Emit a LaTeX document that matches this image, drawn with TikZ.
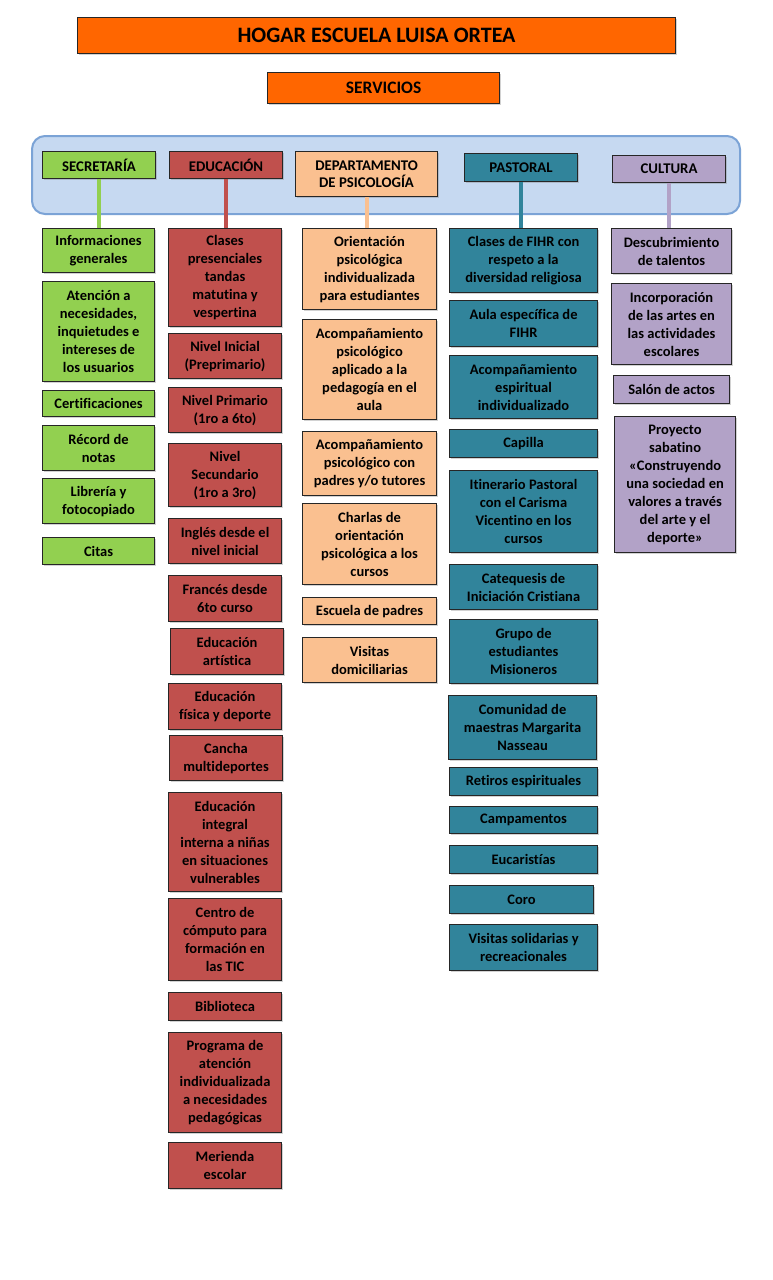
\documentclass[tikz,border=0pt]{standalone}
\usepackage{fontspec}
\setmainfont{Carlito}[Ligatures={CommonOff,ContextualOff}]
\usetikzlibrary{shadows}
\definecolor{cOrange}{HTML}{FF6600}
\definecolor{cGreen}{HTML}{92D050}
\definecolor{cRed}{HTML}{C0504D}
\definecolor{cPeach}{HTML}{FAC090}
\definecolor{cTeal}{HTML}{31849B}
\definecolor{cPurple}{HTML}{B2A2C7}
\definecolor{cPanel}{HTML}{C6D9F1}
\definecolor{cPanelLine}{HTML}{7BA3D6}
\tikzset{
  base/.style={draw=black!85, line width=1.1pt, inner sep=1pt, align=center,
    font=\fontsize{14.5}{18}\selectfont\bfseries,
    drop shadow={shadow xshift=1.3pt, shadow yshift=-1.3pt, opacity=0.35}},
  hdr/.style={base, font=\fontsize{14.8}{17}\selectfont\bfseries},
  ttl/.style={base, fill=cOrange},
  secbox/.style={base, fill=cGreen},
  edubox/.style={base, fill=cRed},
  psybox/.style={base, fill=cPeach},
  pasbox/.style={base, fill=cTeal},
  culbox/.style={base, fill=cPurple},
  panelbox/.style={draw=cPanelLine, line width=2pt, fill=cPanel, rounded corners=13pt, inner sep=0pt},
  link/.style={line width=4pt},
}
\newcommand\mybox[7]{%
  \pgfmathsetmacro\mybw{#4-#2}\pgfmathsetmacro\mybh{#5-#3}%
  \node[#6, minimum width=\mybw pt, minimum height=\mybh pt, anchor=north west] (#1) at (#2,#3) {#7};}
\begin{document}
\begin{tikzpicture}[x=1pt,y=-1pt]
\fill[white] (0,0) rectangle (773,1280);
\useasboundingbox (0,0) rectangle (773,1280);
% title
\mybox{title}{77}{17}{675}{53}{ttl, font=\fontsize{22}{24}\selectfont\bfseries}{HOGAR ESCUELA LUISA ORTEA}
\mybox{serv}{267}{72}{499}{103}{ttl, font=\fontsize{17.5}{19}\selectfont\bfseries}{SERVICIOS}
% panel
\mybox{panel}{31}{135}{739}{213}{panelbox}{}
% headers
\mybox{hsec}{42}{151}{155}{178}{hdr, fill=cGreen}{SECRETARÍA}
\mybox{hedu}{169}{151}{282}{178}{hdr, fill=cRed}{EDUCACIÓN}
\mybox{hpsy}{295}{151}{437}{196}{hdr, fill=cPeach}{DEPARTAMENTO\\DE PSICOLOGÍA}
\mybox{hpas}{464}{153}{577}{181}{hdr, fill=cTeal}{PASTORAL}
\mybox{hcul}{612}{155}{725}{182}{hdr, fill=cPurple}{CULTURA}
% Secretaria
\mybox{s1}{42}{228}{154}{272}{secbox}{Informaciones\\generales}
\mybox{s2}{42}{281}{154}{381}{secbox}{Atención a\\necesidades,\\inquietudes e\\intereses de\\los usuarios}
\mybox{s3}{42}{390}{154}{416}{secbox}{Certificaciones}
\mybox{s4}{42}{425}{154}{470}{secbox}{Récord de\\notas}
\mybox{s5}{42}{478}{154}{523}{secbox}{Librería y\\fotocopiado}
\mybox{s6}{42}{537}{154}{564}{secbox}{Citas}
% Educacion
\mybox{e1}{168}{228}{281}{326}{edubox}{Clases\\presenciales\\tandas\\matutina y\\vespertina}
\mybox{e2}{168}{333}{281}{378}{edubox}{Nivel Inicial\\(Preprimario)}
\mybox{e3}{168}{387}{281}{432}{edubox}{Nivel Primario\\(1ro a 6to)}
\mybox{e4}{168}{443}{281}{506}{edubox}{Nivel\\Secundario\\(1ro a 3ro)}
\mybox{e5}{168}{518}{281}{563}{edubox}{Inglés desde el\\nivel inicial}
\mybox{e6}{168}{575}{281}{621}{edubox}{Francés desde\\6to curso}
\mybox{e7}{170}{628}{283}{674}{edubox}{Educación\\artística}
\mybox{e8}{168}{683}{281}{729}{edubox}{Educación\\física y deporte}
\mybox{e9}{169}{735}{282}{780}{edubox}{Cancha\\multideportes}
\mybox{e10}{168}{792}{281}{891}{edubox}{Educación\\integral\\interna a niñas\\en situaciones\\vulnerables}
\mybox{e11}{168}{898}{281}{980}{edubox}{Centro de\\cómputo para\\formación en\\las TIC}
\mybox{e12}{168}{992}{281}{1020}{edubox}{Biblioteca}
\mybox{e13}{168}{1032}{281}{1132}{edubox}{Programa de\\atención\\individualizada\\a necesidades\\pedagógicas}
\mybox{e14}{168}{1142}{281}{1188}{edubox}{Merienda\\escolar}
% Psicologia
\mybox{p1}{302}{228}{436}{309}{psybox}{Orientación\\psicológica\\individualizada\\para estudiantes}
\mybox{p2}{302}{319}{436}{419}{psybox}{Acompañamiento\\psicológico\\aplicado a la\\pedagogía en el\\aula}
\mybox{p3}{302}{431}{436}{495}{psybox}{Acompañamiento\\psicológico con\\padres y/o tutores}
\mybox{p4}{302}{503}{436}{584}{psybox}{Charlas de\\orientación\\psicológica a los\\cursos}
\mybox{p5}{302}{597}{436}{624}{psybox}{Escuela de padres}
\mybox{p6}{302}{637}{436}{682}{psybox}{Visitas\\domiciliarias}
% Pastoral
\mybox{t1}{449}{228}{597}{292}{pasbox}{Clases de FIHR con\\respeto a la\\diversidad religiosa}
\mybox{t2}{449}{300}{597}{346}{pasbox}{Aula específica de\\FIHR}
\mybox{t3}{449}{355}{597}{418}{pasbox}{Acompañamiento\\espiritual\\individualizado}
\mybox{t4}{449}{429}{597}{457}{pasbox}{Capilla}
\mybox{t5}{449}{470}{597}{552}{pasbox}{Itinerario Pastoral\\con el Carisma\\Vicentino en los\\cursos}
\mybox{t6}{449}{564}{597}{609}{pasbox}{Catequesis de\\Iniciación Cristiana}
\mybox{t7}{449}{619}{597}{683}{pasbox}{Grupo de\\estudiantes\\Misioneros}
\mybox{t8}{448}{695}{596}{759}{pasbox}{Comunidad de\\maestras Margarita\\Nasseau}
\mybox{t9}{449}{767}{597}{795}{pasbox}{Retiros espirituales}
\mybox{t10}{449}{806}{597}{833}{pasbox}{Campamentos}
\mybox{t11}{449}{845}{597}{873}{pasbox}{Eucaristías}
\mybox{t12}{449}{885}{593}{913}{pasbox}{Coro}
\mybox{t13}{449}{924}{597}{970}{pasbox}{Visitas solidarias y\\recreacionales}
% Cultura
\mybox{c1}{611}{228}{731}{273}{culbox}{Descubrimiento\\de talentos}
\mybox{c2}{611}{283}{731}{364}{culbox}{Incorporación\\de las artes en\\las actividades\\escolares}
\mybox{c3}{613}{375}{729}{403}{culbox}{Salón de actos}
\mybox{c4}{614}{416}{735}{552}{culbox}{Proyecto\\sabatino\\«Construyendo\\una sociedad en\\valores a través\\del arte y el\\deporte»}
% connectors
\draw[link, cGreen] (hsec.south) -- (hsec.south |- s1.north);
\draw[link, cRed] (hedu.south) -- (hedu.south |- e1.north);
\draw[link, cPeach] (hpsy.south) -- (hpsy.south |- p1.north);
\draw[link, cTeal] (hpas.south) -- (hpas.south |- t1.north);
\draw[link, cPurple] (hcul.south) -- (hcul.south |- c1.north);
\end{tikzpicture}
\end{document}
